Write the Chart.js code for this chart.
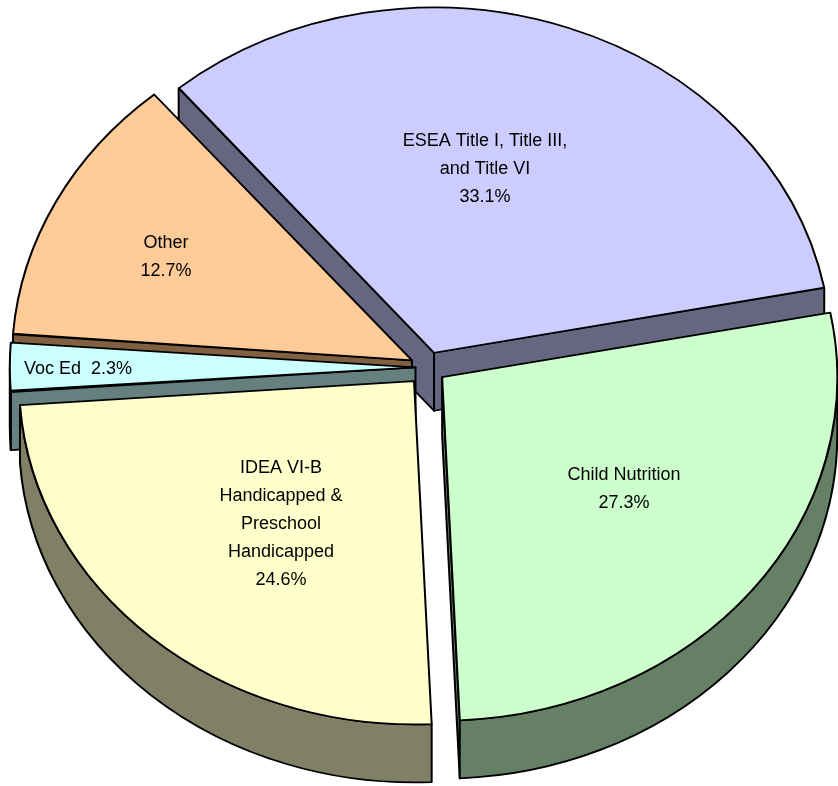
<!DOCTYPE html>
<html>
<head>
<meta charset="utf-8">
<script src="https://cdn.jsdelivr.net/npm/chart.js@4.4.1/dist/chart.umd.min.js"></script>
<style>
  html, body { margin: 0; padding: 0; background: #fff; }
  #wrap { width: 838px; height: 786px; }
</style>
</head>
<body>
<div id="wrap"><canvas id="pie" width="838" height="786"></canvas></div>
<script>
/* ---- Data ---- */
const categories = [
  "ESEA Title I, Title III, and Title VI",
  "Child Nutrition",
  "IDEA VI-B Handicapped & Preschool Handicapped",
  "Voc Ed",
  "Other",
];
const shares = [33.1, 27.3, 24.6, 2.3, 12.7];
// label text as wrapped in the picture (percent line appended from shares)
const labelLines = [
  ["ESEA Title I, Title III,", "and Title VI"],
  ["Child Nutrition"],
  ["IDEA VI-B", "Handicapped &", "Preschool", "Handicapped"],
  ["Voc Ed"],
  ["Other"],
];

/* ---- Style ---- */
const TOP_COLORS = ["#CCCCFF", "#CCFFCC", "#FFFFCC", "#CCFFFF", "#FFCC99"];
const SIDE_COLORS = ["#666680", "#668066", "#808066", "#668080", "#806040"];
const EXPLODE = [72, 72, 84, 50, 72];
const TILT = 0.869;        // vertical squash of the pie
const DEPTH = 58 / TILT;   // extrusion, in unsquashed units
const CENTER_Y = 367.5;
const LINE_W = 2;
// label anchors (screen px) and alignment
const LABEL_POS = [
  { x: 485, y: 141, align: "center" },
  { x: 624, y: 475, align: "center" },
  { x: 281, y: 468, align: "center" },
  { x: 24, y: 369, align: "left", inline: true },
  { x: 166, y: 243, align: "center" },
];
const LINE_H = 28;

/* ---- 3D pie plugin: squash + side walls ---- */
function drawSides(ctx, arc, color) {
  const o = (arc.options.offset || 0) / 4;
  const circ = arc.endAngle - arc.startAngle;
  const mid = (arc.startAngle + arc.endAngle) / 2;
  const r = arc.outerRadius + o * (1 - Math.sin(Math.min(Math.PI, circ)));
  const cx = arc.x + Math.cos(mid) * o;
  const cy = arc.y + Math.sin(mid) * o;

  ctx.fillStyle = color;
  ctx.strokeStyle = "#000";
  ctx.lineWidth = LINE_W;
  ctx.lineJoin = "round";

  const face = (a) => {
    const px = cx + Math.cos(a) * r, py = cy + Math.sin(a) * r;
    ctx.beginPath();
    ctx.moveTo(cx, cy);
    ctx.lineTo(px, py);
    ctx.lineTo(px, py + DEPTH);
    ctx.lineTo(cx, cy + DEPTH);
    ctx.closePath();
    ctx.fill();
    ctx.stroke();
  };
  if (Math.cos(arc.startAngle) < 0) face(arc.startAngle);
  if (Math.cos(arc.endAngle) > 0) face(arc.endAngle);

  // outer wall where it faces the viewer (angles 0..PI)
  for (let k = -2; k <= 2; k++) {
    const s = Math.max(arc.startAngle, k * 2 * Math.PI);
    const e = Math.min(arc.endAngle, k * 2 * Math.PI + Math.PI);
    if (e <= s) continue;
    ctx.beginPath();
    ctx.arc(cx, cy, r, s, e, false);
    ctx.lineTo(cx + Math.cos(e) * r, cy + Math.sin(e) * r + DEPTH);
    ctx.arc(cx, cy + DEPTH, r, e, s, true);
    ctx.closePath();
    ctx.fill();
    ctx.stroke();
  }
}

const pie3d = {
  id: "pie3d",
  beforeDatasetsDraw(chart) {
    const ctx = chart.ctx;
    ctx.save();
    ctx.translate(0, CENTER_Y * (1 - TILT));
    ctx.scale(1, TILT);
    const arcs = chart.getDatasetMeta(0).data;
    // back to front
    const order = arcs
      .map((a, i) => ({ a, i, s: Math.sin((a.startAngle + a.endAngle) / 2) }))
      .sort((p, q) => p.s - q.s);
    order.forEach(({ a, i }) => drawSides(ctx, a, SIDE_COLORS[i]));
  },
  afterDatasetsDraw(chart) {
    chart.ctx.restore();
  },
  afterDraw(chart) {
    const ctx = chart.ctx;
    ctx.save();
    ctx.fillStyle = "#000";
    ctx.font = '18px "Liberation Sans", Arial, sans-serif';
    ctx.textBaseline = "middle";
    labelLines.forEach((lines, i) => {
      const p = LABEL_POS[i];
      const pct = shares[i].toFixed(1) + "%";
      ctx.textAlign = p.align;
      const rows = p.inline ? [lines[0] + "  " + pct] : [...lines, pct];
      rows.forEach((t, j) => ctx.fillText(t, p.x, p.y + j * LINE_H));
    });
    ctx.restore();
  },
};

new Chart(document.getElementById("pie"), {
  type: "pie",
  data: {
    labels: categories,
    datasets: [
      {
        data: shares,
        backgroundColor: TOP_COLORS,
        borderColor: "#000",
        borderWidth: LINE_W,
        borderJoinStyle: "round",
        offset: EXPLODE,
        hoverOffset: 0,
        radius: 395,
        clip: false,
      },
    ],
  },
  options: {
    responsive: false,
    animation: false,
    events: [],
    rotation: -40,
    layout: { padding: { left: 18, right: 0, top: 0, bottom: 51 } },
    plugins: { legend: { display: false }, tooltip: { enabled: false } },
  },
  plugins: [pie3d],
});
</script>
</body>
</html>
